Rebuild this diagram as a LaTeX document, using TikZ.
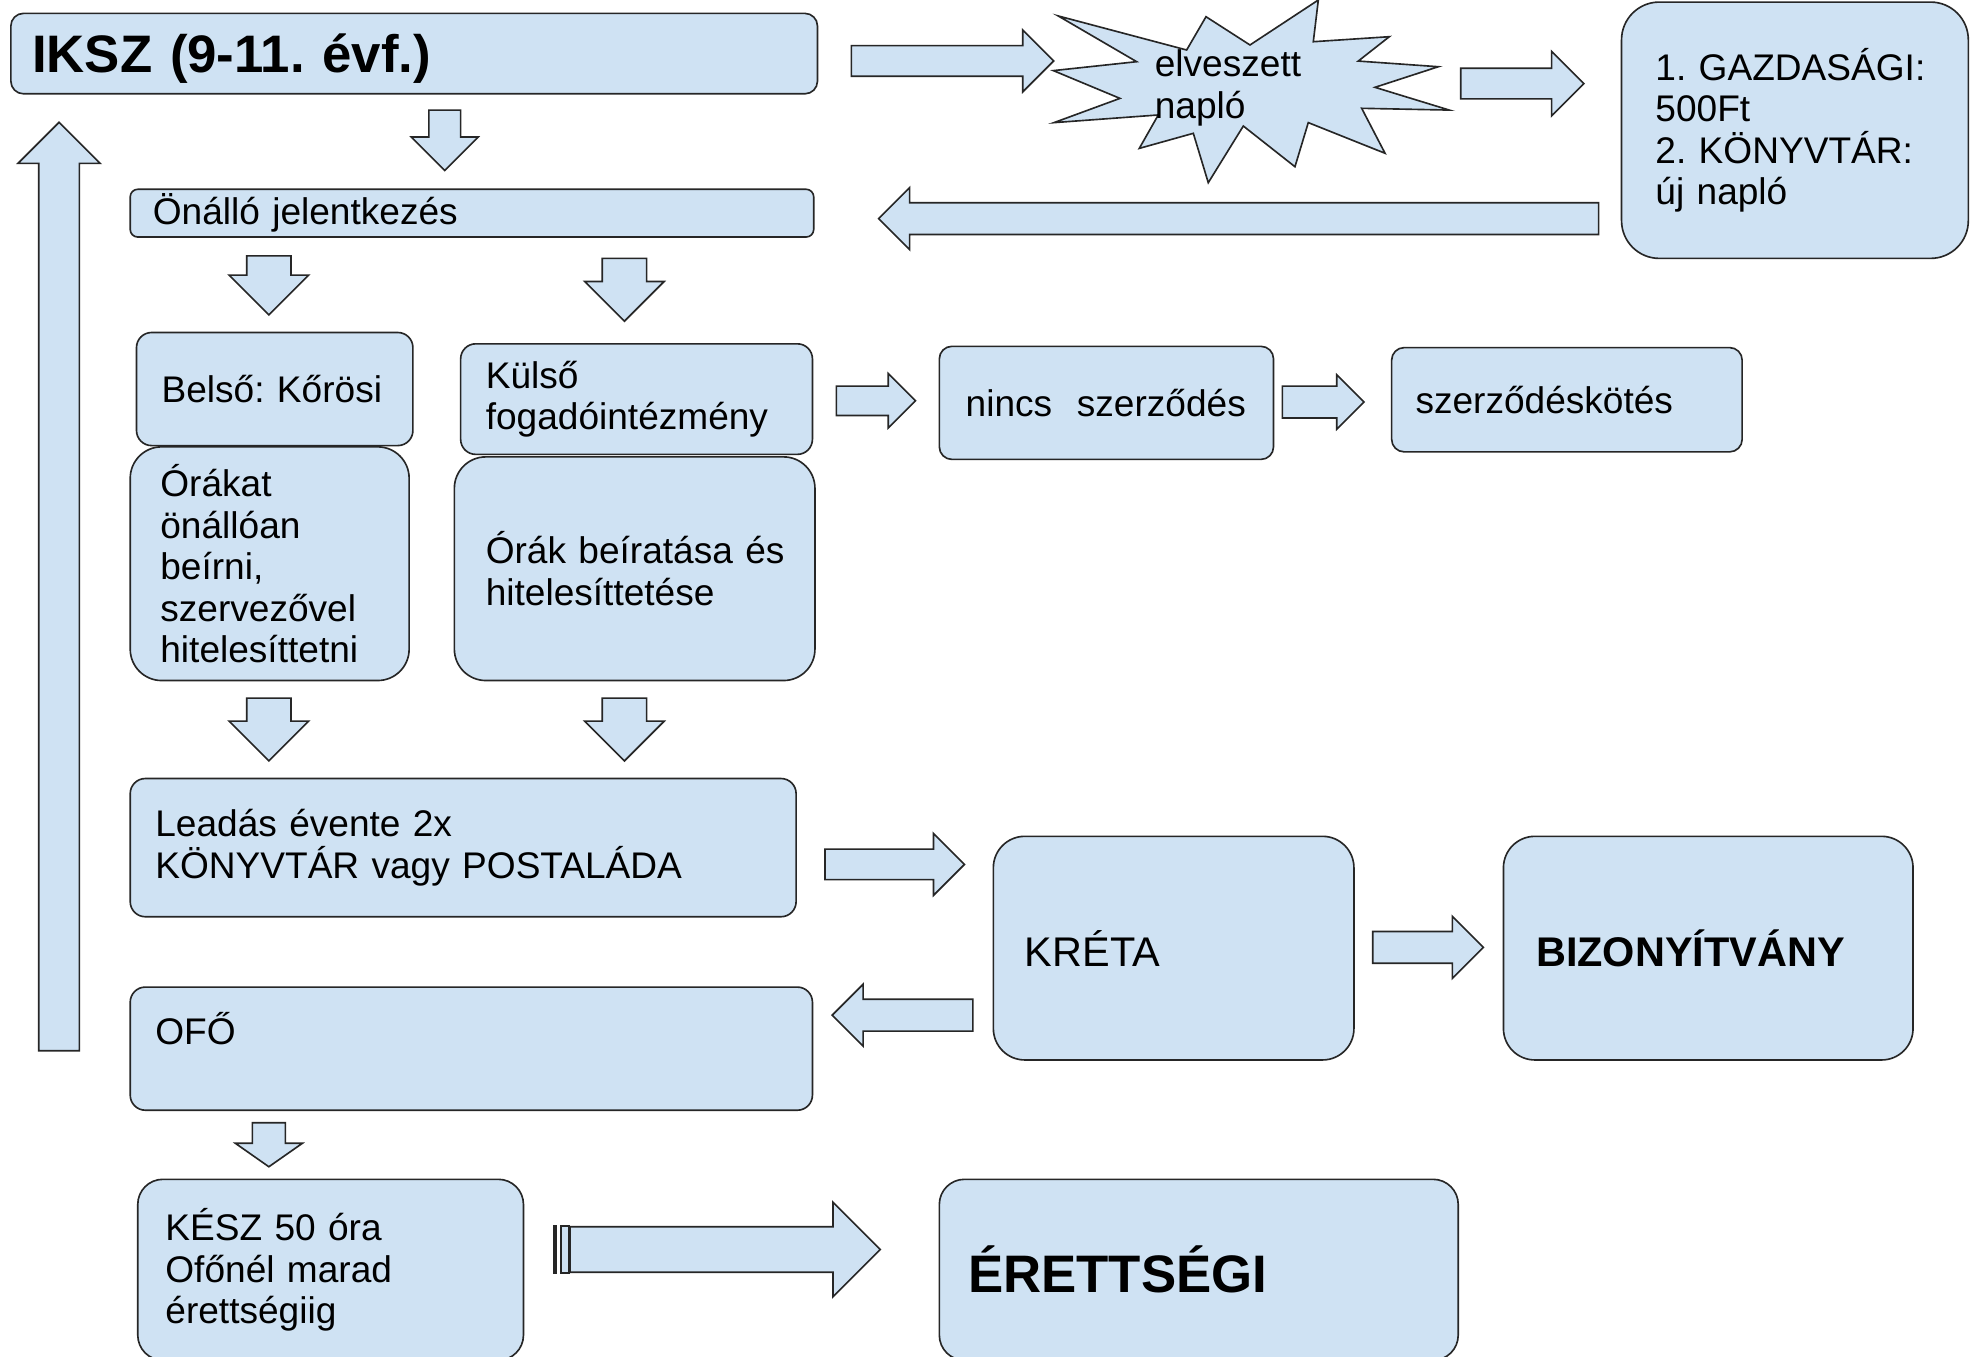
\documentclass[tikz,border=0pt]{standalone}
\usepackage{fontspec}
\setmainfont{Liberation Sans}
\usetikzlibrary{shapes.arrows}
\frenchspacing

\definecolor{boxblue}{HTML}{CFE2F3}
\definecolor{edgegray}{HTML}{262626}

\newcommand\bodyfont{\fontsize{29.5}{33}\selectfont}
\newcommand\midfont{\fontsize{33}{38}\selectfont}
\newcommand\headfont{\fontsize{42}{48}\selectfont\bfseries}

\tikzset{
  box/.style={draw=edgegray, fill=boxblue, line width=1.3pt, rounded corners=#1,
    anchor=north west, inner ysep=0pt, align=left, font=\bodyfont},
  box/.default=12pt,
  blk/.style n args={3}{single arrow, draw=edgegray, fill=boxblue, line width=1.3pt,
    inner sep=0pt, text height=#1, text depth=0pt, minimum width=0pt,
    single arrow head extend=#2, minimum height=#3, anchor=tail},
  burstline/.style={draw=edgegray, fill=boxblue, line width=1.3pt, line join=miter},
}

\begin{document}
\begin{tikzpicture}[x=1pt, y=-1pt]
    \fill[white] (0,0) rectangle (1568,1080);
    \useasboundingbox (0,0) rectangle (1568,1080);

    % top row
    \node[box=10pt, inner xsep=17pt, text width=608pt, minimum height=64pt, font=\headfont] (iksz) at (8,10) {\raisebox{-4pt}[\height][\depth]{IKSZ (9-11. évf.)}};
    \node[box=6pt, inner xsep=18pt, text width=508pt, minimum height=38pt] (onallo) at (103,150) {Önálló jelentkezés};
    \node[box=30pt, inner xsep=27pt, text width=222pt, minimum height=204pt] (gazd) at (1290,1) {1.~GAZDASÁGI:\\500Ft\\2.~KÖNYVTÁR:\\új napló};

    \draw[burstline] (1049.3,0) -- (1045.3,33.2) -- (1105.8,29.2) -- (1081.1,48.6)
        -- (1144.8,53.1) -- (1094.4,69.5) -- (1153.5,87.6) -- (1083.8,86.2)
        -- (1102.4,122.0) -- (1041.3,97.6) -- (1030.7,132.7) -- (989.6,100.3)
        -- (961.7,145.4) -- (949.8,106.1) -- (906.8,118.1) -- (921.9,91.5)
        -- (838.9,97.6) -- (891.4,78.3) -- (838.4,56.2) -- (904.7,49.1)
        -- (842.3,12.7) -- (944.5,39.8) -- (959.9,13.3) -- (994.9,35.8) -- cycle;
    \node[font=\bodyfont, align=left, anchor=west, inner sep=0pt] (lost) at (919,70) {elveszett\\napló};

    % belso / kulso
    \node[box, inner xsep=20pt, text width=180pt, minimum height=90pt] (belso) at (108,264) {Belső:~Kőrösi};
    \node[box, inner xsep=20pt, text width=240pt, minimum height=88pt] (kulso) at (366,273) {Külső\\fogadóintézmény};
    \node[box=10pt, inner xsep=21pt, text width=224pt, minimum height=90pt] (nincs) at (747,275) {nincs~~szerződés};
    \node[box=10pt, inner xsep=19pt, text width=241pt, minimum height=83pt] (szerz) at (1107,276) {szerződéskötés};
    \node[box=25pt, inner xsep=24pt, text width=174pt, minimum height=186pt] (orakat) at (103,355) {Órákat\\önállóan\\beírni,\\szervezővel\\hitelesíttetni};
    \node[box=25pt, inner xsep=25pt, text width=237pt, minimum height=178pt] (beiras) at (361,363) {Órák~beíratása~és\\hitelesíttetése};

    % leadas, kreta
    \node[box, inner xsep=20pt, text width=490pt, minimum height=110pt] (leadas) at (103,619) {Leadás évente 2x\\KÖNYVTÁR vagy POSTALÁDA};
    \node[box=25pt, inner xsep=25pt, text width=237pt, minimum height=178pt, font=\midfont] (kreta) at (790,665) {KRÉTA};
    \node[box=25pt, inner xsep=26pt, text width=274pt, minimum height=178pt, font=\midfont\bfseries] (bizonyitvany) at (1196,665) {BIZONYÍTVÁNY};
    \node[box, inner xsep=20pt, text width=503pt, minimum height=98pt] (ofo) at (103,785) {OFŐ\\\mbox{}};

    % bottom row
    \node[box=20pt, inner xsep=22pt, text width=263pt, minimum height=144pt] (kesz) at (109,938) {KÉSZ 50 óra\\Ofőnél marad\\érettségiig};
    \node[box=20pt, inner xsep=23pt, text width=367pt, minimum height=144pt, font=\headfont] (erettsegi) at (747,938) {ÉRETTSÉGI};

    % block arrows, placed by their tails
    \node[blk={24pt}{14pt}{48pt}, rotate=-90] (d1) at (354,87) {};
    \node[blk={31pt}{16.5pt}{739pt}, rotate=90] (back) at (47,837) {};
    \node[blk={23pt}{12.5pt}{161pt}] (r1) at (677,48.5) {};
    \node[blk={23pt}{13.5pt}{98pt}] (r2) at (1162,66.5) {};
    \node[blk={24pt}{12pt}{573pt}, rotate=180] (l1) at (1273,174) {};
    \node[blk={34pt}{14pt}{47pt}, rotate=-90] (d2) at (214,203) {};
    \node[blk={34pt}{14pt}{50pt}, rotate=-90] (d3) at (497,205) {};
    \node[blk={22pt}{10pt}{63pt}] (r3) at (665,319) {};
    \node[blk={24pt}{9pt}{65pt}] (r4) at (1020,320) {};
    \node[blk={34pt}{14pt}{50pt}, rotate=-90] (d4) at (214,555) {};
    \node[blk={34pt}{14pt}{50pt}, rotate=-90] (d5) at (497,555) {};
    \node[blk={23pt}{12.5pt}{111pt}] (r5) at (656,688) {};
    \node[blk={24pt}{12pt}{88pt}] (r6) at (1092,754) {};
    \node[blk={24pt}{12pt}{112pt}, rotate=180] (l2) at (775,808) {};
    \node[blk={25pt}{13.5pt}{35pt}, rotate=-90, single arrow tip angle=110] (d6) at (214,893) {};
    \node[blk={35pt}{19.5pt}{247pt}] (fin) at (453,994.5) {};
    \filldraw[draw=edgegray, fill=edgegray, line width=1pt] ([xshift=-12pt]fin.before tail) rectangle ([xshift=-10.5pt]fin.after tail);
    \filldraw[draw=edgegray, fill=boxblue, line width=1.3pt] ([xshift=-6.5pt]fin.before tail) rectangle (fin.after tail);
\end{tikzpicture}
\end{document}
